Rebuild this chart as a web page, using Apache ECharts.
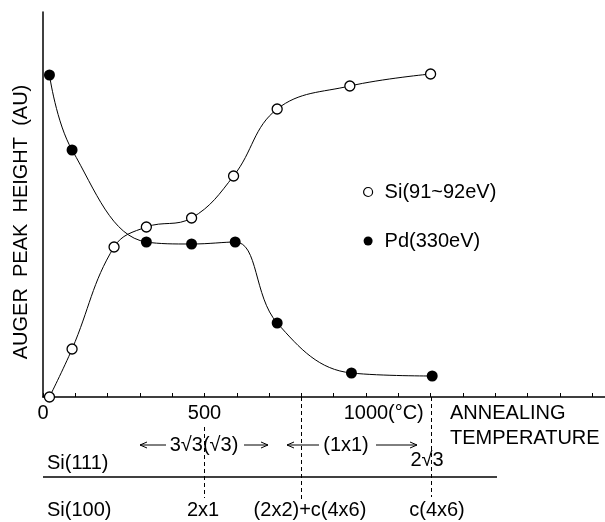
<!DOCTYPE html>
<html>
<head>
<meta charset="utf-8">
<script src="https://cdn.jsdelivr.net/npm/echarts@6/dist/echarts.min.js"></script>
<style>
  html, body { margin: 0; padding: 0; background: #fff; }
  #chart { width: 605px; height: 522px; }
</style>
</head>
<body>
<div id="chart"></div>
<script>
  // annealing temperature (°C) and Auger peak height (arbitrary units)
  var siTemp = [20, 90, 220, 320, 460, 590, 725, 950, 1200];
  var siHeight = [0, 48, 150, 170, 179, 221, 288, 311, 323];
  var pdTemp = [20, 90, 320, 460, 595, 725, 955, 1205];
  var pdHeight = [322, 247, 155, 153, 155, 74, 24, 21];

  var tickLabels = {0: '0', 500: '500', 1000: '1000'};
  // phase boundaries drawn as dashed lines below the axis
  var phaseTemps = [500, 800, 1200];

  var FONT = '"Liberation Sans", Arial, sans-serif';

  function pairs(xs, ys) {
    var out = [];
    for (var i = 0; i < xs.length; i++) out.push([xs[i], ys[i]]);
    return out;
  }

  var myChart = echarts.init(document.getElementById('chart'));

  myChart.setOption({
    animation: false,
    backgroundColor: '#fff',
    grid: {left: 43, right: 0, top: 12, bottom: 125},
    xAxis: {
      type: 'value',
      min: 0,
      max: 1740,
      interval: 100,
      axisLine: {lineStyle: {color: '#000', width: 1.5}},
      axisTick: {inside: true, length: 4, lineStyle: {color: '#000'}},
      splitLine: {show: false},
      axisLabel: {
        margin: 6,
        color: '#000',
        fontFamily: FONT,
        fontSize: 20,
        showMaxLabel: false,
        formatter: function (v) {
          return tickLabels[v] || '';
        }
      }
    },
    yAxis: {
      type: 'value',
      min: 0,
      max: 385,
      axisLine: {show: true, lineStyle: {color: '#000', width: 1.5}},
      axisTick: {show: false},
      axisLabel: {show: false},
      splitLine: {show: false}
    },
    legend: {
      orient: 'vertical',
      left: 358,
      top: 177,
      itemGap: 29,
      icon: 'circle',
      itemWidth: 9,
      itemHeight: 9,
      textStyle: {fontFamily: FONT, fontSize: 20, color: '#000', lineHeight: 20, padding: [0, 0, 0, 7]},
      data: [
        {name: 'Si(91~92eV)', itemStyle: {color: '#fff', borderColor: '#000', borderWidth: 1.2}},
        {name: 'Pd(330eV)', itemStyle: {color: '#000', borderColor: '#000', borderWidth: 0}}
      ]
    },
    series: [
      {
        name: 'Si(91~92eV)',
        type: 'line',
        smooth: 0.4,
        symbol: 'circle',
        symbolSize: 10,
        z: 3,
        itemStyle: {color: '#fff', borderColor: '#000', borderWidth: 1.3},
        lineStyle: {color: '#000', width: 1},
        data: pairs(siTemp, siHeight)
      },
      {
        name: 'Pd(330eV)',
        type: 'line',
        smooth: 0.4,
        symbol: 'circle',
        symbolSize: 11,
        z: 2,
        itemStyle: {color: '#000', borderColor: '#000', borderWidth: 0},
        lineStyle: {color: '#000', width: 1},
        data: pairs(pdTemp, pdHeight)
      }
    ]
  });

  // annotations below the axis
  var axisY = myChart.convertToPixel({gridIndex: 0}, [0, 0])[1];
  function px(t) {
    return myChart.convertToPixel({xAxisIndex: 0}, t);
  }
  function txt(s, x, y, align) {
    return {
      type: 'text', x: x, y: y, z: 10,
      style: {text: s, font: '20px ' + FONT, fill: '#000', align: align || 'left', verticalAlign: 'middle'}
    };
  }
  function arrow(x1, x2, y) {
    var d = x2 > x1 ? -1 : 1;
    return [
      {type: 'line', z: 10, shape: {x1: x1, y1: y, x2: x2, y2: y}, style: {stroke: '#000', lineWidth: 1}},
      {type: 'polyline', z: 10, shape: {points: [[x2 + d * 7, y - 3], [x2, y], [x2 + d * 7, y + 3]]},
        style: {stroke: '#000', lineWidth: 1, fill: null}}
    ];
  }

  var dashTop = [427, axisY, axisY];
  var dashBottom = [498, 500, 497];
  var g = [];
  for (var i = 0; i < phaseTemps.length; i++) {
    var x = Math.round(px(phaseTemps[i])) + 0.5;
    g.push({
      type: 'line', z: 9,
      shape: {x1: x, y1: dashTop[i], x2: x, y2: dashBottom[i]},
      style: {stroke: '#000', lineWidth: 1, lineDash: [4, 3]}
    });
  }
  g.push(txt('(°C)', px(1000) + 22, 413));
  g.push(txt('ANNEALING', 450, 413));
  g.push(txt('TEMPERATURE', 450, 438));
  g.push({
    type: 'text', x: 21, y: 222, rotation: Math.PI / 2, z: 10,
    style: {text: 'AUGER  PEAK  HEIGHT  (AU)', font: '20px ' + FONT, fill: '#000', align: 'center', verticalAlign: 'middle'}
  });
  g = g.concat(arrow(166, 140, 445));
  g.push(txt('3√3(√3)', 204, 445, 'center'));
  g = g.concat(arrow(244, 268, 445));
  g = g.concat(arrow(319, 287, 445));
  g.push(txt('(1x1)', 346, 445, 'center'));
  g = g.concat(arrow(376, 417, 445));
  g.push(txt('Si(111)', 47, 463));
  g.push(txt('2√3', 427, 460, 'center'));
  g.push({type: 'line', z: 9, shape: {x1: 43, y1: 477, x2: 497, y2: 477}, style: {stroke: '#000', lineWidth: 1.5}});
  g.push(txt('Si(100)', 47, 510));
  g.push(txt('2x1', 203, 510, 'center'));
  g.push(txt('(2x2)+c(4x6)', 310, 510, 'center'));
  g.push(txt('c(4x6)', 437, 510, 'center'));

  myChart.setOption({graphic: g});
</script>
</body>
</html>
